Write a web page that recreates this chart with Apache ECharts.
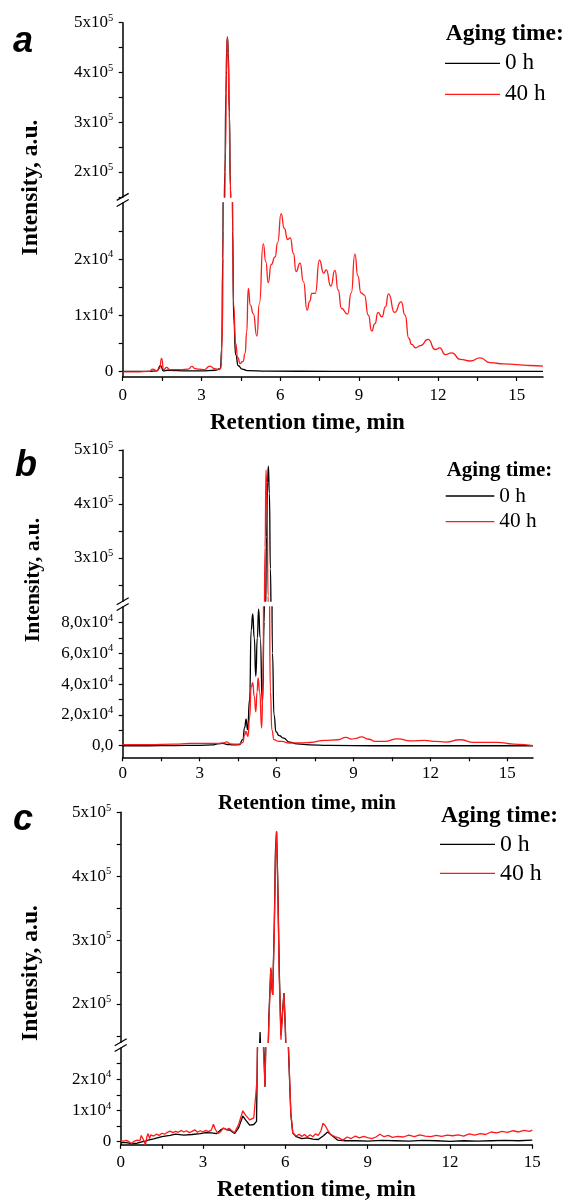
<!DOCTYPE html>
<html>
<head>
<meta charset="utf-8">
<script src="https://cdn.jsdelivr.net/npm/echarts@6.0.0/dist/echarts.min.js"></script>
<style>
html,body{margin:0;padding:0;background:#fff;}
#chart{width:565px;height:1202px;}
</style>
</head>
<body>
<div id="chart"></div>
<script>
// ---------------- DATA ----------------
const seriesNames = ['0 h', '40 h'];
const xTickValues = [0, 1.5, 3, 4.5, 6, 7.5, 9, 10.5, 12, 13.5, 15];
const xLabelValues = [0, 3, 6, 9, 12, 15];

// Panel a
const aUpTicks = [150000, 200000, 250000, 300000, 350000, 400000, 450000, 500000];
const aUpLabels = [200000, 300000, 400000, 500000];
const aLoTicks = [0, 5000, 10000, 15000, 20000, 25000];
const aLoLabels = [0, 10000, 20000];
const aTime0h = [0, 1.0, 1.3, 1.44, 1.55, 1.7, 2.5, 3.0, 3.5, 3.72,
  3.77, 3.81, 3.85, 3.89, 3.93, 3.96, 3.99, 4.02, 4.06, 4.1,
  4.14, 4.18, 4.23, 4.3, 4.4, 4.55, 4.75, 5.5, 8, 12,
  16];
const aInt0h = [0, 0, 100, 1000, 100, 200, 100, 100, 200, 500,
  4000, 20000, 80000, 200000, 360000, 450000, 470000, 440000, 320000, 170000,
  70000, 25000, 9000, 3000, 1000, 400, 150, 50, 0, 0,
  0];
const aTime40h = [0, 0.5, 1.0, 1.15, 1.3, 1.4, 1.48, 1.56, 1.67, 1.8,
  2.2, 2.5, 2.63, 2.75, 2.9, 3.1, 3.32, 3.5, 3.65, 3.74,
  3.79, 3.83, 3.87, 3.91, 3.95, 3.98, 4.01, 4.05, 4.09, 4.13,
  4.17, 4.22, 4.3, 4.38, 4.47, 4.58, 4.66, 4.72, 4.78, 4.86,
  4.97, 5.11, 5.2, 5.35, 5.45, 5.54, 5.65, 5.8, 5.9, 6.03,
  6.15, 6.28, 6.38, 6.5, 6.6, 6.75, 6.88, 7.02, 7.12, 7.2,
  7.33, 7.49, 7.65, 7.75, 7.92, 8.08, 8.2, 8.33, 8.56, 8.7,
  8.84, 8.95, 9.07, 9.2, 9.35, 9.48, 9.6, 9.72, 9.87, 10.0,
  10.12, 10.35, 10.6, 10.75, 10.89, 11.0, 11.15, 11.34, 11.62, 11.9,
  12.07, 12.28, 12.53, 12.85, 13.23, 13.61, 13.99, 14.5, 15.0, 15.5,
  16];
const aInt40h = [-100, -100, 0, 400, 100, 500, 2300, 300, 700, 300,
  300, 400, 900, 500, 400, 300, 950, 500, 300, 600,
  6000, 25000, 100000, 230000, 400000, 472000, 440000, 330000, 190000, 90000,
  35000, 12000, 5000, 2500, 1400, 1800, 3200, 7000, 14800, 11800,
  10300, 6300, 12000, 22700, 19500, 15800, 19000, 20400, 23000, 28100,
  25500, 23500, 23800, 21000, 17800, 19300, 16000, 10900, 12500, 13900,
  13900, 19800, 17500, 18100, 15200, 18000, 14500, 11200, 10200, 14000,
  20900, 17000, 14000, 13600, 10000, 7200, 8500, 10500, 9700, 11500,
  13800, 10500, 12400, 10000, 5900, 4800, 4200, 4600, 5700, 3900,
  4200, 3000, 3300, 2150, 1850, 2400, 1550, 1350, 1200, 1050,
  950];

// Panel b
const bUpTicks = [250000, 300000, 350000, 400000, 450000, 500000];
const bUpLabels = [300000, 400000, 500000];
const bLoTicks = [0, 10000, 20000, 30000, 40000, 50000, 60000, 70000, 80000];
const bLoLabels = [0, 20000, 40000, 60000, 80000];
const bTime0h = [0, 1, 2, 3, 3.5, 3.7, 3.9, 4.1, 4.3, 4.55,
  4.68, 4.76, 4.81, 4.87, 4.95, 5.01, 5.07, 5.13, 5.19, 5.25,
  5.3, 5.36, 5.45, 5.52, 5.57, 5.61, 5.65, 5.68, 5.72, 5.76,
  5.8, 5.84, 5.9, 5.98, 6.1, 6.27, 6.5, 6.8, 7.3, 8,
  10, 12, 14, 16];
const bInt0h = [0, 0, 100, 300, 500, 1300, 1500, 800, 500, 700,
  4000, 12000, 17300, 10400, 30000, 75000, 85500, 70000, 45000, 70000,
  88800, 70000, 28000, 80000, 200000, 340000, 440000, 470000, 420000, 280000,
  150000, 60000, 20000, 9000, 6500, 5000, 2400, 1200, 600, 200,
  0, 0, 0, 0];
const bTime40h = [0, 1, 2, 2.6, 3.2, 3.7, 3.95, 4.05, 4.2, 4.5,
  4.68, 4.76, 4.81, 4.88, 4.95, 5.01, 5.07, 5.13, 5.19, 5.24,
  5.28, 5.34, 5.42, 5.47, 5.51, 5.55, 5.59, 5.63, 5.67, 5.71,
  5.76, 5.82, 5.9, 6.05, 6.2, 6.5, 7.0, 7.3, 7.87, 8.4,
  8.7, 8.93, 9.1, 9.3, 9.6, 9.84, 10.2, 10.72, 11.24, 11.76,
  12.2, 12.6, 13.15, 13.7, 14.6, 15.25, 16];
const bInt40h = [700, 700, 1000, 1500, 1500, 1500, 1800, 2500, 1200, 1000,
  2000, 7000, 9300, 6000, 18000, 38000, 41000, 32000, 22000, 35000,
  44000, 35000, 11500, 40000, 130000, 320000, 463000, 390000, 230000, 110000,
  35000, 10000, 4000, 3000, 2800, 1700, 1900, 2100, 3500, 3900,
  5400, 4300, 4800, 5800, 4200, 2800, 2800, 4500, 3200, 3500,
  2800, 2400, 3900, 2200, 2200, 1100, 0];

// Panel c
const cUpTicks = [150000, 200000, 250000, 300000, 350000, 400000, 450000, 500000];
const cUpLabels = [200000, 300000, 400000, 500000];
const cLoTicks = [0, 5000, 10000, 15000, 20000, 25000];
const cLoLabels = [0, 10000, 20000];
const cTime0h = [0, 0.2, 0.4, 0.6, 0.8, 0.9, 1.0, 1.2, 1.5, 1.8,
  2.0, 2.3, 2.6, 2.9, 3.1, 3.3, 3.5, 3.65, 3.75, 3.85,
  4.0, 4.15, 4.3, 4.45, 4.55, 4.7, 4.85, 4.95, 5.0, 5.04,
  5.08, 5.12, 5.18, 5.26, 5.34, 5.4, 5.47, 5.51, 5.54, 5.6,
  5.64, 5.68, 5.72, 5.78, 5.84, 5.9, 5.95, 6.0, 6.05, 6.11,
  6.2, 6.27, 6.4, 6.6, 6.8, 7.0, 7.2, 7.4, 7.54, 7.7,
  7.9, 8.2, 8.6, 9, 9.5, 10, 10.5, 11, 11.5, 12,
  12.5, 13, 13.5, 14, 14.5, 15];
const cInt0h = [-300, -300, -600, -500, 0, 200, 500, 900, 1600, 2000,
  2400, 2100, 2300, 2600, 2900, 2800, 2600, 3800, 4300, 3900,
  3600, 2600, 4500, 8200, 7000, 5300, 5500, 6500, 40000, 110000,
  156000, 100000, 40000, 17600, 60000, 180000, 255000, 225000, 214000, 330000,
  440000, 470000, 400000, 250000, 151000, 190000, 217000, 160000, 80000, 30000,
  9000, 2800, 1600, 1000, 1200, 800, 700, 2000, 3100, 2000,
  500, 300, 300, 200, 400, 300, 200, 400, 300, 100,
  300, 200, 300, 400, 300, 500];
const cTime40h = [0, 0.1, 0.2, 0.3, 0.4, 0.5, 0.6, 0.7, 0.75, 0.82,
  0.9, 0.95, 1.0, 1.05, 1.1, 1.2, 1.3, 1.4, 1.5, 1.6,
  1.7, 1.8, 1.9, 2.0, 2.1, 2.2, 2.3, 2.4, 2.5, 2.6,
  2.7, 2.8, 2.9, 3.0, 3.1, 3.2, 3.3, 3.38, 3.45, 3.55,
  3.65, 3.75, 3.85, 3.95, 4.05, 4.15, 4.3, 4.45, 4.55, 4.7,
  4.85, 4.92, 4.97, 5.02, 5.08, 5.14, 5.2, 5.26, 5.32, 5.4,
  5.47, 5.51, 5.54, 5.6, 5.64, 5.68, 5.72, 5.78, 5.84, 5.9,
  5.95, 6.0, 6.05, 6.11, 6.2, 6.27, 6.4, 6.5, 6.6, 6.7,
  6.8, 6.9, 7.0, 7.1, 7.2, 7.3, 7.37, 7.45, 7.55, 7.65,
  7.8, 7.95, 8.1, 8.25, 8.4, 8.55, 8.7, 8.85, 9.0, 9.15,
  9.3, 9.45, 9.6, 9.75, 9.9, 10.1, 10.3, 10.5, 10.7, 10.9,
  11.1, 11.3, 11.5, 11.7, 11.9, 12.1, 12.3, 12.5, 12.7, 12.9,
  13.1, 13.3, 13.5, 13.7, 13.9, 14.1, 14.3, 14.5, 14.7, 14.9,
  15];
const cInt40h = [300, 200, 400, 0, -600, 200, 500, 300, 2000, 800,
  -1000, 1500, 2600, 1000, 2200, 1800, 2400, 2000, 2700, 2400,
  3000, 3400, 2900, 3300, 3000, 3600, 3100, 3500, 2900, 3300,
  3800, 3000, 3500, 3100, 3600, 3200, 3700, 5600, 3900, 2600,
  3300, 4400, 3800, 4300, 3500, 2900, 5600, 9900, 8500, 7000,
  7600, 7000, 20000, 60000, 110000, 70000, 30000, 17600, 50000, 170000,
  257000, 228000, 214000, 320000, 430000, 470000, 390000, 240000, 144000, 185000,
  217000, 165000, 90000, 32000, 9000, 2800, 1800, 2400, 1700, 2300,
  1500, 2200, 1600, 2500, 2000, 3500, 5900, 5200, 3600, 2300,
  1600, 1200, 500, 1500, 1000, 1800, 1200, 1700, 1300, 1000,
  1500, 2400, 1600, 2000, 1400, 1700, 1500, 2100, 1600, 2200,
  1800, 1600, 2000, 1700, 2100, 1900, 2200, 1800, 2500, 2100,
  2600, 2300, 3100, 2800, 3300, 3000, 3500, 3100, 3600, 3300,
  3700];

// ---------------- LAYOUT / STYLE ----------------
const SERIF = '"Liberation Serif", serif';
const SANS = '"Liberation Sans", sans-serif';
const BLACK = '#000000';
const RED = '#ff1a1a';

const panels = [
  {
    letter: 'a', left: 122.7, width: 420.3, xMax: 16,
    upTop: 22.7, upH: 174.2, upMin: 150000, upMax: 500000,
    loTop: 203, loH: 174, loMin: -1000, loMax: 30000,
    upTicks: aUpTicks, upLabels: aUpLabels, loTicks: aLoTicks, loLabels: aLoLabels,
    comma: false, smooth: 0.6, xLabelMargin: 10,
    t0: aTime0h, v0: aInt0h, t1: aTime40h, v1: aInt40h,
    letterPos: [13, 41.8], agingPos: [445.7, 34.4, 23.5],
    xTitle: [210, 423, 23], yTitle: [30.8, 187.5, 23.5],
    legend: {left: 445, top: 51.3, w: 55, fs: 23.2, lh: 24, gap: 7}
  },
  {
    letter: 'b', left: 122.7, width: 410.3, xMax: 16,
    upTop: 450, upH: 151.2, upMin: 220000, upMax: 500000,
    loTop: 607, loH: 150.3, loMin: -7500, loMax: 90000,
    upTicks: bUpTicks, upLabels: bUpLabels, loTicks: bLoTicks, loLabels: bLoLabels,
    comma: true, smooth: 0.6, xLabelMargin: 8,
    t0: bTime0h, v0: bInt0h, t1: bTime40h, v1: bInt40h,
    letterPos: [15, 465.8], agingPos: [446.7, 470.3, 21],
    xTitle: [218, 803.6, 21], yTitle: [33.4, 580, 21.5],
    legend: {left: 445.7, top: 485, w: 48.6, fs: 21.3, lh: 22, gap: 3.7}
  },
  {
    letter: 'c', left: 120.7, width: 411.6, xMax: 15,
    upTop: 812.3, upH: 230, upMin: 140000, upMax: 500000,
    loTop: 1048, loH: 96.8, loMin: -1000, loMax: 30000,
    upTicks: cUpTicks, upLabels: cUpLabels, loTicks: cLoTicks, loLabels: cLoLabels,
    comma: false, smooth: false, xLabelMargin: 9,
    t0: cTime0h, v0: cInt0h, t1: cTime40h, v1: cInt40h,
    letterPos: [13, 820.5], agingPos: [441, 816.2, 23.3],
    xTitle: [216.7, 1189.5, 23.5], yTitle: [30.8, 973, 23.5],
    legend: {left: 440, top: 832.3, w: 55, fs: 23.8, lh: 24, gap: 5}
  }
];

function zip(t, v) { return t.map((x, i) => [x, v[i]]); }

function sciFormatter(comma) {
  return function (val) {
    if (val === 0) return '{m|' + (comma ? '0,0' : '0') + '}';
    const exp = Math.floor(Math.log10(Math.abs(val)) + 1e-9);
    const mant = val / Math.pow(10, exp);
    const txt = comma ? mant.toFixed(1).replace('.', ',') : String(Math.round(mant * 10) / 10);
    return '{m|' + txt + 'x10}{e|' + exp + '}';
  };
}

const richStyle = {
  m: {fontFamily: SERIF, fontSize: 17, color: BLACK, lineHeight: 20},
  e: {fontFamily: SERIF, fontSize: 10.5, color: BLACK, verticalAlign: 'top', lineHeight: 11}
};
const axisLineStyle = {color: BLACK, width: 1.5};
const tickLineStyle = {color: BLACK, width: 1.2};

const grids = [], xAxes = [], yAxes = [], series = [], graphics = [], legends = [];

panels.forEach(p => {
  const gi = grids.length;
  grids.push({left: p.left, top: p.upTop, width: p.width, height: p.upH});
  grids.push({left: p.left, top: p.loTop, width: p.width, height: p.loH});

  xAxes.push({gridIndex: gi, type: 'value', min: 0, max: p.xMax, show: false});
  xAxes.push({
    gridIndex: gi + 1, type: 'value', min: 0, max: p.xMax,
    axisLine: {show: true, onZero: false, lineStyle: axisLineStyle},
    axisTick: {show: true, inside: false, length: 4, customValues: xTickValues, lineStyle: tickLineStyle},
    axisLabel: {customValues: xLabelValues, margin: p.xLabelMargin, fontFamily: SERIF, fontSize: 17, color: BLACK},
    splitLine: {show: false}
  });

  yAxes.push({
    gridIndex: gi, type: 'value', min: p.upMin, max: p.upMax,
    axisLine: {show: true, onZero: false, lineStyle: axisLineStyle},
    axisTick: {show: true, inside: false, length: 4, customValues: p.upTicks, lineStyle: tickLineStyle},
    axisLabel: {customValues: p.upLabels, margin: 9.5, formatter: sciFormatter(false), rich: richStyle},
    splitLine: {show: false}
  });
  yAxes.push({
    gridIndex: gi + 1, type: 'value', min: p.loMin, max: p.loMax,
    axisLine: {show: true, onZero: false, lineStyle: axisLineStyle},
    axisTick: {show: true, inside: false, length: 4, customValues: p.loTicks, lineStyle: tickLineStyle},
    axisLabel: {customValues: p.loLabels, margin: 9.5, formatter: sciFormatter(p.comma), rich: richStyle},
    splitLine: {show: false}
  });

  [gi, gi + 1].forEach(idx => {
    [[seriesNames[0], p.t0, p.v0, BLACK], [seriesNames[1], p.t1, p.v1, RED]].forEach(s => {
      series.push({
        type: 'line', name: s[0], xAxisIndex: idx, yAxisIndex: idx,
        data: zip(s[1], s[2]), symbol: 'none', smooth: p.smooth, smoothMonotone: 'x',
        clip: true, silent: true,
        lineStyle: {color: s[3], width: 1.3}, itemStyle: {color: s[3]}
      });
    });
  });

  // axis break marks
  const bx = p.left;
  [p.upTop + p.upH, p.loTop].forEach(by => {
    graphics.push({type: 'line', z: 100,
      shape: {x1: bx - 6, y1: by + 3.5, x2: bx + 6, y2: by - 3.5},
      style: {stroke: BLACK, lineWidth: 1.3}});
  });

  // texts
  graphics.push({type: 'text', z: 100, x: p.letterPos[0], y: p.letterPos[1],
    style: {text: p.letter, fill: BLACK, font: 'italic bold 36px ' + SANS, align: 'left', verticalAlign: 'middle'}});
  graphics.push({type: 'text', z: 100, x: p.agingPos[0], y: p.agingPos[1],
    style: {text: 'Aging time:', fill: BLACK, font: 'bold ' + p.agingPos[2] + 'px ' + SERIF, align: 'left', verticalAlign: 'middle'}});
  graphics.push({type: 'text', z: 100, x: p.xTitle[0], y: p.xTitle[1],
    style: {text: 'Retention time, min', fill: BLACK, font: 'bold ' + p.xTitle[2] + 'px ' + SERIF, align: 'left', verticalAlign: 'middle'}});
  graphics.push({type: 'text', z: 100, x: p.yTitle[0], y: p.yTitle[1], rotation: Math.PI / 2,
    style: {text: 'Intensity, a.u.', fill: BLACK, font: 'bold ' + p.yTitle[2] + 'px ' + SERIF, align: 'center', verticalAlign: 'middle'}});

  legends.push({
    data: seriesNames, orient: 'vertical', left: p.legend.left, top: p.legend.top,
    padding: 0, icon: 'rect', itemWidth: p.legend.w, itemHeight: 1.3, itemGap: p.legend.gap,
    selectedMode: false,
    textStyle: {fontFamily: SERIF, fontSize: p.legend.fs, lineHeight: p.legend.lh, color: BLACK}
  });
});

const chart = echarts.init(document.getElementById('chart'), null, {renderer: 'canvas', width: 565, height: 1202});
chart.setOption({
  backgroundColor: '#ffffff',
  animation: false,
  textStyle: {fontFamily: SERIF},
  grid: grids,
  xAxis: xAxes,
  yAxis: yAxes,
  legend: legends,
  series: series,
  graphic: graphics
});
</script>
</body>
</html>
